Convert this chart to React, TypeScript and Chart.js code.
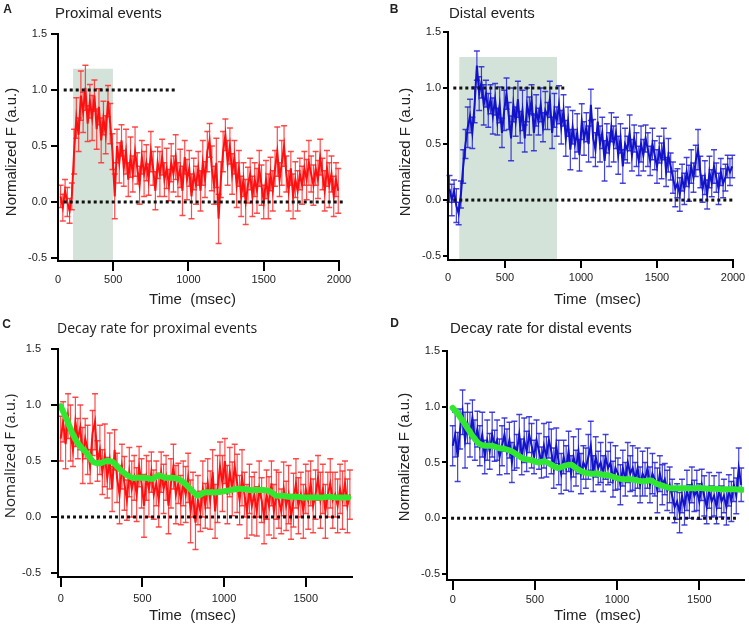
import React, { useEffect, useRef } from "react";
import { Chart, registerables } from "chart.js";

Chart.register(...registerables);

const FONT = '"Liberation Sans", Arial, Helvetica, sans-serif';
const FONT_C = '"Open Sans", "Liberation Sans", Arial, sans-serif';

// ---------- Panel A: proximal events (t = A_T0 + A_DT * i, msec) ----------
const A_T0 = 150;
const A_DT = 15;
const A_VALUES = [
  0.05, -0.05, 0.10, 0.00, -0.08, 0.05, 0.45, 0.75, 0.60, 0.95,
  0.80, 1.02, 0.70, 0.90, 0.75, 0.95, 0.65, 0.85, 0.55, 0.75,
  0.60, 0.90, 0.70, 0.45, 0.05, 0.50, 0.35, 0.55, 0.30, 0.45,
  0.20, 0.40, 0.25, 0.45, 0.30, 0.15, 0.40, 0.25, 0.35, 0.20,
  0.45, 0.30, 0.10, 0.35, 0.25, 0.40, 0.20, 0.30, 0.15, 0.35,
  0.25, 0.40, 0.20, 0.30, 0.10, 0.40, 0.20, 0.30, 0.05, 0.25,
  0.15, 0.30, 0.10, 0.35, 0.20, 0.45, 0.55, 0.30, 0.15, 0.35,
  -0.15, 0.20, 0.45, 0.60, 0.35, 0.50, 0.25, 0.40, 0.15, 0.30,
  0.05, 0.20, 0.00, 0.15, 0.25, 0.05, 0.20, 0.10, 0.30, 0.15,
  0.00, 0.20, 0.05, 0.25, 0.10, 0.30, 0.45, 0.20, 0.35, 0.50,
  0.25, 0.10, 0.30, 0.05, 0.20, 0.10, 0.25, 0.15, 0.30, 0.20,
  0.35, 0.25, 0.15, 0.30, 0.20, 0.40, 0.25, 0.10, 0.30, 0.15,
  0.25, 0.05, 0.20, 0.10,
];
const A_ERR = [
  0.10, 0.12, 0.10, 0.13, 0.11, 0.12, 0.20, 0.18, 0.15, 0.22,
  0.18, 0.20, 0.16, 0.15, 0.20, 0.14, 0.18, 0.16, 0.20, 0.15,
  0.17, 0.14, 0.18, 0.16, 0.20, 0.15, 0.18, 0.14, 0.16, 0.20,
  0.15, 0.18, 0.16, 0.22, 0.14, 0.17, 0.15, 0.20, 0.16, 0.14,
  0.18, 0.15, 0.17, 0.14, 0.20, 0.16, 0.15, 0.18, 0.14, 0.17,
  0.16, 0.20, 0.15, 0.17, 0.22, 0.15, 0.18, 0.16, 0.20, 0.14,
  0.17, 0.15, 0.18, 0.20, 0.16, 0.18, 0.15, 0.20, 0.17, 0.22,
  0.22, 0.16, 0.18, 0.14, 0.20, 0.16, 0.18, 0.15, 0.20, 0.16,
  0.18, 0.15, 0.20, 0.16, 0.14, 0.18, 0.15, 0.20, 0.16, 0.18,
  0.15, 0.17, 0.20, 0.15, 0.18, 0.16, 0.22, 0.15, 0.20, 0.18,
  0.16, 0.18, 0.15, 0.20, 0.16, 0.18, 0.14, 0.17, 0.15, 0.18,
  0.20, 0.16, 0.18, 0.15, 0.17, 0.16, 0.14, 0.18, 0.16, 0.20,
  0.16, 0.18, 0.15, 0.20,
];
const A_SHADE = { from: 233, to: 498, top: 1.19 };
const A_REFS = [
  { y: 1, from: 171, to: 911 },
  { y: 0, from: 171, to: 2025 },
];
const A_X_TICKS = [133, 500, 1000, 1500, 2000];

// ---------- Panel B: distal events ----------
const B_T0 = 135;
const B_DT = 15;
const B_VALUES = [
  0.10, 0.00, 0.08, -0.05, -0.12, 0.05, 0.30, 0.50, 0.65, 0.75,
  0.60, 0.85, 1.20, 0.95, 1.05, 0.85, 0.95, 0.80, 0.90, 0.75,
  0.90, 0.70, 0.85, 0.60, 0.80, 0.95, 0.75, 0.55, 0.85, 0.70,
  0.90, 0.65, 0.80, 0.55, 0.85, 0.75, 0.90, 0.60, 0.80, 0.70,
  0.85, 0.65, 0.80, 0.75, 0.90, 0.60, 0.80, 0.70, 0.85, 0.65,
  0.80, 0.55, 0.70, 0.45, 0.65, 0.50, 0.60, 0.40, 0.70, 0.55,
  0.65, 0.50, 0.85, 0.55, 0.45, 0.70, 0.50, 0.60, 0.35, 0.55,
  0.45, 0.65, 0.50, 0.60, 0.40, 0.55, 0.30, 0.50, 0.45, 0.60,
  0.40, 0.55, 0.45, 0.35, 0.50, 0.40, 0.55, 0.45, 0.35, 0.50,
  0.40, 0.30, 0.45, 0.35, 0.50, 0.25, 0.40, 0.30, 0.20, 0.10,
  0.15, 0.05, 0.20, 0.10, 0.25, 0.15, 0.30, 0.20, 0.35, 0.45,
  0.25, 0.10, 0.20, 0.05, 0.25, 0.15, 0.30, 0.20, 0.10, 0.25,
  0.15, 0.20, 0.30, 0.25, 0.30,
];
const B_ERR = [
  0.12, 0.14, 0.10, 0.15, 0.10, 0.12, 0.15, 0.13, 0.18, 0.15,
  0.14, 0.16, 0.13, 0.15, 0.14, 0.18, 0.12, 0.15, 0.13, 0.16,
  0.14, 0.12, 0.16, 0.13, 0.18, 0.14, 0.12, 0.20, 0.15, 0.13,
  0.16, 0.14, 0.18, 0.12, 0.15, 0.17, 0.13, 0.16, 0.14, 0.12,
  0.15, 0.13, 0.17, 0.12, 0.16, 0.14, 0.15, 0.13, 0.17, 0.15,
  0.14, 0.16, 0.13, 0.18, 0.15, 0.13, 0.17, 0.14, 0.16, 0.15,
  0.13, 0.16, 0.14, 0.17, 0.15, 0.12, 0.16, 0.14, 0.18, 0.13,
  0.15, 0.13, 0.16, 0.14, 0.17, 0.13, 0.15, 0.14, 0.12, 0.16,
  0.14, 0.12, 0.15, 0.13, 0.16, 0.14, 0.12, 0.15, 0.13, 0.14,
  0.13, 0.15, 0.12, 0.16, 0.14, 0.13, 0.15, 0.12, 0.14, 0.16,
  0.13, 0.15, 0.12, 0.14, 0.13, 0.16, 0.15, 0.13, 0.14, 0.18,
  0.14, 0.12, 0.15, 0.13, 0.14, 0.12, 0.15, 0.13, 0.14, 0.12,
  0.13, 0.12, 0.10, 0.12, 0.10,
];
const B_SHADE = { from: 199, to: 842, top: 1.277 };
const B_REFS = [
  { y: 1, from: 160, to: 890 },
  { y: 0, from: 160, to: 2007 },
];
const B_X_TICKS = [125, 500, 1000, 1500, 2000];

const AB_X_LABELS = ["0", "500", "1000", "1500", "2000"];

// ---------- Panel C: decay rate, proximal ----------
const C_T0 = 0;
const C_DT = 15;
const C_VALUES = [
  0.70, 0.85, 0.65, 0.90, 0.75, 0.60, 0.85, 0.70, 0.80, 0.55,
  0.70, 0.60, 0.45, 0.75, 0.85, 0.50, 0.60, 0.40, 0.55, 0.35,
  0.50, 0.25, 0.60, 0.35, 0.20, 0.45, 0.30, 0.15, 0.40, 0.25,
  0.35, 0.20, 0.45, 0.30, 0.10, 0.35, 0.25, 0.40, 0.20, 0.30,
  0.15, 0.40, 0.25, 0.35, 0.10, 0.30, 0.45, 0.20, 0.30, 0.15,
  0.30, 0.20, 0.35, 0.05, 0.20, -0.05, 0.15, 0.05, 0.25, 0.10,
  0.30, 0.15, 0.40, 0.05, 0.25, 0.45, 0.30, 0.50, 0.20, 0.40,
  0.25, 0.45, 0.30, 0.15, 0.35, 0.20, 0.05, 0.25, 0.10, 0.20,
  0.05, 0.25, 0.15, 0.00, 0.20, 0.10, 0.30, 0.05, 0.20, 0.15,
  0.05, 0.25, 0.10, 0.20, 0.00, 0.15, 0.30, 0.10, 0.20, 0.05,
  0.25, 0.15, 0.30, 0.10, 0.20, 0.35, 0.15, 0.25, 0.05, 0.20,
  0.30, 0.15, 0.20, 0.10, 0.25, 0.15, 0.30, 0.10, 0.20,
];
const C_ERR = [
  0.20, 0.18, 0.22, 0.20, 0.25, 0.15, 0.22, 0.18, 0.20, 0.25,
  0.18, 0.22, 0.15, 0.20, 0.25, 0.18, 0.22, 0.20, 0.28, 0.18,
  0.25, 0.20, 0.18, 0.22, 0.26, 0.20, 0.24, 0.18, 0.22, 0.25,
  0.20, 0.24, 0.18, 0.22, 0.28, 0.20, 0.25, 0.18, 0.22, 0.20,
  0.24, 0.18, 0.22, 0.20, 0.25, 0.22, 0.20, 0.26, 0.18, 0.22,
  0.20, 0.25, 0.22, 0.28, 0.20, 0.24, 0.22, 0.18, 0.25, 0.20,
  0.22, 0.26, 0.20, 0.24, 0.30, 0.22, 0.25, 0.20, 0.26, 0.22,
  0.24, 0.20, 0.26, 0.22, 0.25, 0.20, 0.24, 0.22, 0.26, 0.20,
  0.22, 0.25, 0.20, 0.24, 0.22, 0.26, 0.20, 0.24, 0.22, 0.25,
  0.20, 0.24, 0.22, 0.26, 0.20, 0.24, 0.22, 0.25, 0.20, 0.24,
  0.22, 0.26, 0.20, 0.24, 0.22, 0.20, 0.25, 0.22, 0.24, 0.20,
  0.22, 0.25, 0.20, 0.24, 0.22, 0.26, 0.20, 0.24, 0.22,
];
const C_FIT_T0 = 0;
const C_FIT_DT = 40;
const C_FIT = [
  0.99, 0.86, 0.72, 0.63, 0.57, 0.49, 0.48, 0.50, 0.49, 0.43,
  0.38, 0.35, 0.35, 0.35, 0.34, 0.37, 0.35, 0.35, 0.34, 0.30,
  0.24, 0.19, 0.22, 0.22, 0.22, 0.23, 0.24, 0.25, 0.25, 0.24,
  0.24, 0.24, 0.23, 0.19, 0.19, 0.18, 0.18, 0.175, 0.175, 0.175,
  0.175, 0.18, 0.175, 0.175, 0.175,
];
const C_REFS = [{ y: 0, from: 2, to: 1726 }];

// ---------- Panel D: decay rate, distal ----------
const D_T0 = 0;
const D_DT = 15;
const D_VALUES = [
  0.65, 0.75, 0.55, 0.80, 0.95, 0.70, 0.85, 0.75, 0.90, 0.70,
  0.80, 0.65, 0.75, 0.55, 0.70, 0.60, 0.75, 0.65, 0.70, 0.55,
  0.65, 0.75, 0.60, 0.70, 0.50, 0.65, 0.60, 0.75, 0.55, 0.70,
  0.60, 0.75, 0.65, 0.55, 0.70, 0.60, 0.50, 0.65, 0.55, 0.70,
  0.60, 0.45, 0.65, 0.50, 0.40, 0.55, 0.45, 0.60, 0.40, 0.55,
  0.45, 0.60, 0.40, 0.50, 0.45, 0.55, 0.65, 0.40, 0.55, 0.45,
  0.50, 0.40, 0.55, 0.45, 0.50, 0.35, 0.45, 0.40, 0.30, 0.45,
  0.35, 0.50, 0.40, 0.45, 0.35, 0.45, 0.30, 0.40, 0.35, 0.45,
  0.30, 0.40, 0.35, 0.25, 0.40, 0.30, 0.35, 0.25, 0.30, 0.20,
  0.10, 0.15, 0.05, 0.20, 0.10, 0.25, 0.15, 0.30, 0.20, 0.25,
  0.15, 0.30, 0.20, 0.10, 0.25, 0.15, 0.20, 0.10, 0.25, 0.15,
  0.20, 0.10, 0.25, 0.15, 0.30, 0.20, 0.45, 0.30,
];
const D_ERR = [
  0.18, 0.20, 0.22, 0.18, 0.20, 0.25, 0.18, 0.20, 0.16, 0.18,
  0.16, 0.18, 0.20, 0.15, 0.18, 0.16, 0.20, 0.14, 0.18, 0.16,
  0.18, 0.15, 0.20, 0.16, 0.18, 0.22, 0.15, 0.18, 0.16, 0.20,
  0.18, 0.16, 0.20, 0.15, 0.18, 0.16, 0.14, 0.20, 0.18, 0.16,
  0.20, 0.18, 0.16, 0.20, 0.18, 0.15, 0.20, 0.18, 0.16, 0.18,
  0.16, 0.20, 0.18, 0.15, 0.18, 0.20, 0.22, 0.16, 0.18, 0.15,
  0.18, 0.16, 0.20, 0.15, 0.18, 0.16, 0.20, 0.14, 0.18, 0.16,
  0.15, 0.18, 0.16, 0.20, 0.15, 0.18, 0.16, 0.20, 0.15, 0.18,
  0.16, 0.18, 0.15, 0.20, 0.16, 0.18, 0.14, 0.18, 0.16, 0.15,
  0.14, 0.16, 0.18, 0.15, 0.16, 0.18, 0.15, 0.16, 0.14, 0.18,
  0.16, 0.14, 0.18, 0.15, 0.16, 0.14, 0.18, 0.15, 0.16, 0.14,
  0.15, 0.16, 0.14, 0.18, 0.15, 0.16, 0.18, 0.15,
];
const D_FIT_T0 = 0;
const D_FIT_DT = 40;
const D_FIT = [
  0.99, 0.92, 0.83, 0.74, 0.67, 0.65, 0.65, 0.63, 0.62, 0.60,
  0.56, 0.53, 0.52, 0.50, 0.51, 0.48, 0.45, 0.47, 0.48, 0.44,
  0.41, 0.40, 0.40, 0.39, 0.38, 0.36, 0.35, 0.35, 0.34, 0.33,
  0.34, 0.31, 0.29, 0.27, 0.27, 0.27, 0.27, 0.27, 0.27, 0.265,
  0.265, 0.26, 0.26, 0.26, 0.255,
];
const D_REFS = [{ y: 0, from: -10, to: 1723 }];

const CD_X_TICKS = [0, 500, 1000, 1500];
const CD_X_LABELS = ["0", "500", "1000", "1500"];

const Y_TICKS = [-0.5, 0, 0.5, 1, 1.5];

const RED = "#ff1010";
const RED_ERR = "rgba(255,45,45,0.85)";
const BLUE = "#1212c8";
const BLUE_ERR = "rgba(35,35,210,0.85)";
const GREEN = "#30e830";
const SHADE = "#d4e3d9";

type RefLine = { y: number; from: number; to: number };
type Cfg = {
  box: { x: number; y: number; w: number; h: number };
  area: { l: number; t: number; r: number; b: number };
  xMin: number; xMax: number; yMin: number; yMax: number;
  xTicks: number[]; xLabels: string[]; hideFirstX: boolean;
  yTickLen: number; yTickPad: number; xTickLen: number; xTickPad: number;
  t0: number; dt: number; values: number[]; errors: number[];
  color: string; errColor: string;
  shade?: { from: number; to: number; top: number };
  refs: RefLine[];
  fit?: { t0: number; dt: number; values: number[] };
};

const series = (t0: number, dt: number, vals: number[]) =>
  vals.map((v, i) => ({ x: t0 + dt * i, y: v }));

const PANELS: Cfg[] = [
  {
    box: { x: 0, y: 0, w: 375, h: 314 },
    area: { l: 58, t: 34, r: 339, b: 261 },
    xMin: 133, xMax: 2000, yMin: -0.527, yMax: 1.5,
    xTicks: A_X_TICKS, xLabels: AB_X_LABELS, hideFirstX: true,
    yTickLen: 7, yTickPad: 4, xTickLen: 10, xTickPad: 2,
    t0: A_T0, dt: A_DT, values: A_VALUES, errors: A_ERR,
    color: RED, errColor: RED_ERR, shade: A_SHADE, refs: A_REFS,
  },
  {
    box: { x: 375, y: 0, w: 374, h: 314 },
    area: { l: 448, t: 32, r: 733, b: 260 },
    xMin: 125, xMax: 2000, yMin: -0.535, yMax: 1.5,
    xTicks: B_X_TICKS, xLabels: AB_X_LABELS, hideFirstX: true,
    yTickLen: 5, yTickPad: 2, xTickLen: 8, xTickPad: 3,
    t0: B_T0, dt: B_DT, values: B_VALUES, errors: B_ERR,
    color: BLUE, errColor: BLUE_ERR, shade: B_SHADE, refs: B_REFS,
  },
  {
    box: { x: 0, y: 314, w: 375, h: 314 },
    area: { l: 58, t: 349, r: 352, b: 577 },
    xMin: -16.5, xMax: 1783, yMin: -0.536, yMax: 1.5,
    xTicks: CD_X_TICKS, xLabels: CD_X_LABELS, hideFirstX: false,
    yTickLen: 7, yTickPad: 10, xTickLen: 10, xTickPad: 5,
    t0: C_T0, dt: C_DT, values: C_VALUES, errors: C_ERR,
    color: RED, errColor: RED_ERR, refs: C_REFS,
    fit: { t0: C_FIT_T0, dt: C_FIT_DT, values: C_FIT },
  },
  {
    box: { x: 375, y: 314, w: 374, h: 314 },
    area: { l: 447, t: 351, r: 744, b: 580 },
    xMin: -34.7, xMax: 1772, yMin: -0.554, yMax: 1.5,
    xTicks: CD_X_TICKS, xLabels: CD_X_LABELS, hideFirstX: false,
    yTickLen: 5, yTickPad: 2, xTickLen: 10, xTickPad: 3,
    t0: D_T0, dt: D_DT, values: D_VALUES, errors: D_ERR,
    color: BLUE, errColor: BLUE_ERR, refs: D_REFS,
    fit: { t0: D_FIT_T0, dt: D_FIT_DT, values: D_FIT },
  },
];

function Panel({ cfg }: { cfg: Cfg }) {
  const ref = useRef<HTMLCanvasElement>(null);
  useEffect(() => {
    const c = cfg;
    const datasets: any[] = [];
    if (c.fit) {
      datasets.push({
        data: series(c.fit.t0, c.fit.dt, c.fit.values),
        borderColor: GREEN, borderWidth: 6, pointRadius: 0, tension: 0.2,
        borderJoinStyle: "round", borderCapStyle: "round",
      });
    }
    c.refs.forEach((r) =>
      datasets.push({
        data: [{ x: r.from, y: r.y }, { x: r.to, y: r.y }],
        borderColor: "#111", borderWidth: 3, borderDash: [3, 3],
        borderCapStyle: "butt", pointRadius: 0, clip: false,
      })
    );
    datasets.push({
      data: series(c.t0, c.dt, c.values),
      borderColor: c.color, borderWidth: 2, pointRadius: 0, tension: 0,
    });

    const decor = {
      id: "decor",
      beforeDatasetsDraw(chart: any) {
        const { ctx, chartArea } = chart;
        const xs = chart.scales.x;
        const ys = chart.scales.y;
        ctx.save();
        if (c.shade) {
          const x1 = xs.getPixelForValue(c.shade.from);
          const x2 = xs.getPixelForValue(c.shade.to);
          const yt = ys.getPixelForValue(c.shade.top);
          ctx.fillStyle = SHADE;
          ctx.fillRect(x1, yt, x2 - x1, chartArea.bottom - 1 - yt);
        }
        ctx.strokeStyle = c.errColor;
        ctx.lineWidth = 1.2;
        ctx.beginPath();
        c.values.forEach((v, i) => {
          const px = xs.getPixelForValue(c.t0 + c.dt * i);
          const yHi = ys.getPixelForValue(v + c.errors[i]);
          const yLo = ys.getPixelForValue(v - c.errors[i]);
          ctx.moveTo(px, yHi);
          ctx.lineTo(px, yLo);
        });
        ctx.stroke();
        ctx.lineWidth = 1.5;
        ctx.beginPath();
        c.values.forEach((v, i) => {
          const px = xs.getPixelForValue(c.t0 + c.dt * i);
          const yHi = ys.getPixelForValue(v + c.errors[i]);
          const yLo = ys.getPixelForValue(v - c.errors[i]);
          ctx.moveTo(px - 3, yHi);
          ctx.lineTo(px + 3, yHi);
          ctx.moveTo(px - 3, yLo);
          ctx.lineTo(px + 3, yLo);
        });
        ctx.stroke();
        ctx.restore();
      },
    };

    const tickFont = { family: FONT, size: 11 };
    const chart = new Chart(ref.current as HTMLCanvasElement, {
      type: "line",
      data: { datasets },
      options: {
        responsive: false,
        animation: false,
        devicePixelRatio: 1,
        events: [],
        layout: {
          padding: {
            left: 0,
            top: c.area.t - c.box.y,
            right: c.box.x + c.box.w - c.area.r,
            bottom: 0,
          },
        },
        plugins: {
          legend: { display: false },
          tooltip: { enabled: false },
          title: { display: false },
        },
        scales: {
          x: {
            type: "linear",
            min: c.xMin,
            max: c.xMax,
            afterBuildTicks: (s: any) => {
              s.ticks = c.xTicks.map((v) => ({ value: v }));
            },
            afterFit: (s: any) => {
              s.height = c.box.y + c.box.h - c.area.b;
            },
            ticks: {
              autoSkip: false,
              maxRotation: 0,
              minRotation: 0,
              padding: c.xTickPad,
              color: "#222",
              font: tickFont,
              callback: (_v: any, i: number) => c.xLabels[i],
            },
            grid: {
              display: true,
              drawOnChartArea: false,
              drawTicks: true,
              tickLength: c.xTickLen,
              lineWidth: 2,
              color: "#000",
              tickColor: (ctx: any) =>
                c.hideFirstX && ctx.index === 0 ? "rgba(0,0,0,0)" : "#000",
            },
            border: { display: true, width: 2, color: "#000", z: 1 },
          },
          y: {
            type: "linear",
            min: c.yMin,
            max: c.yMax,
            afterBuildTicks: (s: any) => {
              s.ticks = Y_TICKS.map((v) => ({ value: v }));
            },
            afterFit: (s: any) => {
              s.width = c.area.l - c.box.x;
            },
            ticks: {
              padding: c.yTickPad,
              color: "#222",
              font: tickFont,
              callback: (v: any) => Number(v).toFixed(1),
            },
            grid: {
              display: true,
              drawOnChartArea: false,
              drawTicks: true,
              tickLength: c.yTickLen,
              lineWidth: 2,
              color: "#000",
            },
            border: { display: true, width: 2, color: "#000", z: 1 },
          },
        },
      } as any,
      plugins: [decor],
    });
    return () => chart.destroy();
  }, [cfg]);
  return (
    <canvas
      ref={ref}
      width={cfg.box.w}
      height={cfg.box.h}
      style={{
        position: "absolute",
        left: cfg.box.x,
        top: cfg.box.y,
        width: cfg.box.w,
        height: cfg.box.h,
        display: "block",
      }}
    />
  );
}

type TxtProps = {
  x: number; y: number; text: string; size: number;
  bold?: boolean; rotate?: boolean; left?: boolean; family?: string;
};

function Txt({ x, y, text, size, bold, rotate, left, family }: TxtProps) {
  const tx = left ? "0" : "-50%";
  return (
    <div
      style={{
        position: "absolute",
        left: x,
        top: y,
        transform: `translate(${tx},-50%)${rotate ? " rotate(-90deg)" : ""}`,
        fontFamily: family || FONT,
        fontSize: size,
        fontWeight: bold ? "bold" : "normal",
        lineHeight: 1,
        whiteSpace: "pre",
        color: "#222",
      }}
    >
      {text}
    </div>
  );
}

export default function App() {
  return (
    <div
      style={{
        position: "absolute",
        left: 0,
        top: 0,
        width: 749,
        height: 628,
        background: "#fff",
        overflow: "hidden",
      }}
    >
      {PANELS.map((p, i) => (
        <Panel key={i} cfg={p} />
      ))}
      <Txt x={7.5} y={9} text="A" size={12} bold />
      <Txt x={55} y={11.7} text="Proximal events" size={15} left />
      <Txt x={394} y={9} text="B" size={12} bold />
      <Txt x={449} y={11.5} text="Distal events" size={15} left />
      <Txt x={6.5} y={324.3} text="C" size={12} bold />
      <Txt x={57} y={328.3} text="Decay rate for proximal events" size={14} left family={FONT_C} />
      <Txt x={394.5} y={323} text="D" size={12} bold />
      <Txt x={450} y={327.3} text="Decay rate for distal events" size={15} left />

      <Txt x={10} y={151.5} text="Normalized F (a.u.)" size={15} rotate />
      <Txt x={403.5} y={151.5} text="Normalized F (a.u.)" size={15} rotate />
      <Txt x={9} y={456} text="Nomalized F (a.u.)" size={15} rotate family={FONT_C} />
      <Txt x={402.5} y={456.5} text="Normalized F (a.u.)" size={15} rotate />

      <Txt x={192.5} y={298} text="Time  (msec)" size={15} />
      <Txt x={597.5} y={298} text="Time  (msec)" size={15} />
      <Txt x={192.5} y={614} text="Time  (msec)" size={15} />
      <Txt x={597.5} y={614} text="Time  (msec)" size={15} />
    </div>
  );
}
